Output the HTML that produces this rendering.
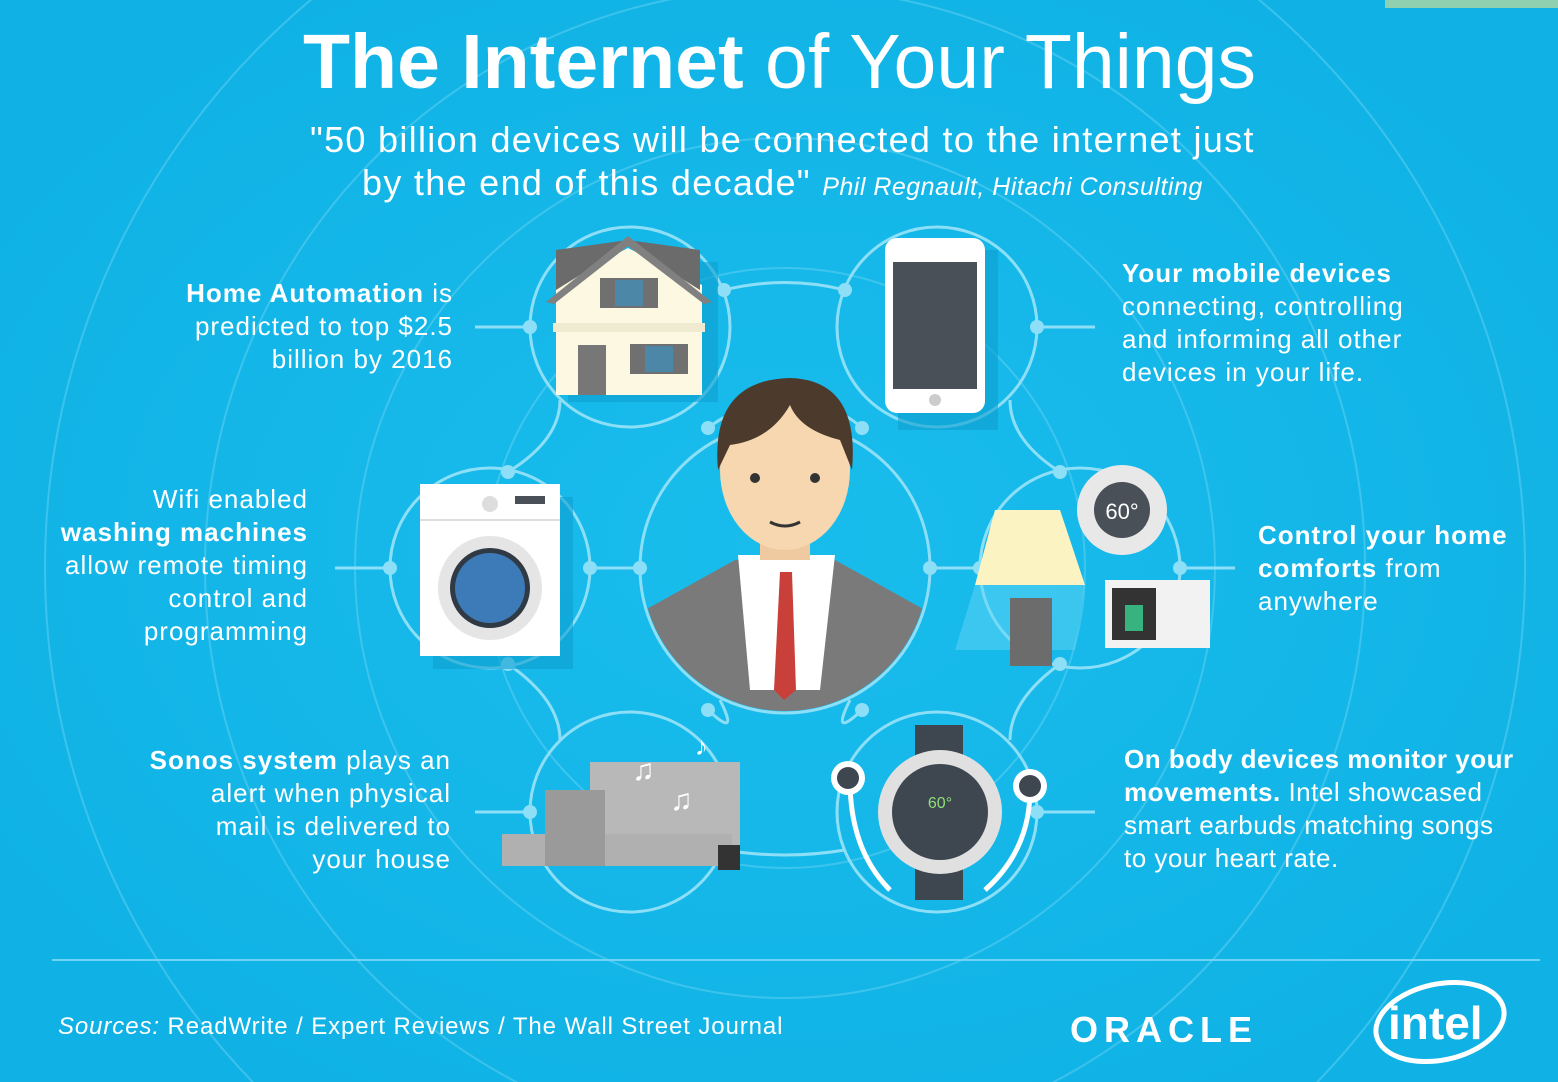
<!DOCTYPE html>
<html><head><meta charset="utf-8"><style>
html,body{margin:0;padding:0;overflow:hidden;width:1558px;height:1082px}
body{background:#13b6e8;font-family:"Liberation Sans",sans-serif;color:#fff;position:relative}
.t{position:absolute;white-space:nowrap;line-height:33px;font-size:26px;letter-spacing:1px}
.r{text-align:right}
b{font-weight:bold}
</style></head><body>
<svg width="1558" height="1082" style="position:absolute;left:0;top:0">
<defs><radialGradient id="bg" cx="50%" cy="50%" r="60%"><stop offset="0" stop-color="#19bdec"/><stop offset="1" stop-color="#10b2e5"/></radialGradient>
<clipPath id="pg"><rect width="1558" height="1082"/></clipPath></defs>
<g clip-path="url(#pg)">
<rect width="1558" height="1082" fill="url(#bg)"/>
<rect x="1385" y="0" width="173" height="8" fill="#8fd0b0"/>
<g fill="none" stroke="#5fd0f2" stroke-width="2" opacity="0.55">
<circle cx="785" cy="568" r="300"/><circle cx="785" cy="568" r="430"/><circle cx="785" cy="568" r="580"/><circle cx="785" cy="568" r="740"/>
</g>
<g fill="none" stroke="#8ddff7" stroke-width="3">
<circle cx="785" cy="568" r="145"/>
<circle cx="630" cy="327" r="100"/><circle cx="937" cy="327" r="100"/>
<circle cx="490" cy="568" r="100"/><circle cx="1080" cy="568" r="100"/>
<circle cx="630" cy="812" r="100"/><circle cx="937" cy="812" r="100"/>
<path d="M724 290 Q785 275 845 290 M708 428 Q745 400 720 440 M862 428 Q830 400 850 440 M508 472 Q560 440 560 400 M1060 472 Q1010 440 1010 400 M508 664 Q560 700 560 740 M1060 664 Q1010 700 1010 740 M590 568 L640 568 M930 568 L980 568 M724 850 Q785 860 845 850 M708 710 Q740 740 720 700 M862 710 Q830 740 850 700"/>
<path d="M475 327 L530 327 M1037 327 L1095 327 M335 568 L390 568 M1180 568 L1235 568 M475 812 L530 812 M1037 812 L1095 812"/>
</g>
<g fill="#8ddff7">
<circle cx="724" cy="290" r="7"/><circle cx="845" cy="290" r="7"/><circle cx="530" cy="327" r="7"/><circle cx="1037" cy="327" r="7"/>
<circle cx="390" cy="568" r="7"/><circle cx="590" cy="568" r="7"/><circle cx="640" cy="568" r="7"/><circle cx="930" cy="568" r="7"/><circle cx="980" cy="568" r="7"/><circle cx="1180" cy="568" r="7"/>
<circle cx="530" cy="812" r="7"/><circle cx="1037" cy="812" r="7"/><circle cx="508" cy="472" r="7"/><circle cx="1060" cy="472" r="7"/><circle cx="508" cy="664" r="7"/><circle cx="1060" cy="664" r="7"/>
<circle cx="708" cy="428" r="7"/><circle cx="862" cy="428" r="7"/><circle cx="708" cy="710" r="7"/><circle cx="862" cy="710" r="7"/>
</g>
<line x1="52" y1="960" x2="1540" y2="960" stroke="#6fd4f3" stroke-width="2"/>
<!-- house -->
<rect x="568" y="262" width="150" height="140" fill="#0e9fcf" opacity="0.6"/>
<polygon points="556,395 556,285 628,248 702,285 702,395" fill="#fdf8e1"/>
<polygon points="556,250 628,240 700,250 700,290 628,245 556,290" fill="#6b6b6b"/>
<polygon points="546,302 628,236 712,302 704,304 628,246 554,304" fill="#808080"/>
<rect x="553" y="323" width="152" height="9" fill="#f0ead0"/>
<rect x="600" y="278" width="58" height="30" fill="#707070"/><rect x="615" y="280" width="28" height="26" fill="#4d87a8"/>
<rect x="578" y="345" width="28" height="50" fill="#777"/>
<rect x="630" y="344" width="58" height="30" fill="#707070"/><rect x="645" y="346" width="28" height="26" fill="#4d87a8"/>
<!-- phone -->
<rect x="898" y="250" width="100" height="180" fill="#0e9fcf" opacity="0.6"/>
<rect x="885" y="238" width="100" height="175" rx="12" fill="#fff"/>
<rect x="893" y="262" width="84" height="127" fill="#4a5058"/>
<circle cx="935" cy="400" r="6" fill="#ccc"/>
<!-- man -->
<clipPath id="mc"><circle cx="785" cy="568" r="143"/></clipPath>
<g clip-path="url(#mc)">
<path d="M645 610 L735 560 L835 560 L925 610 L925 720 L645 720Z" fill="#7a7a7a"/>
<polygon points="738,555 835,555 820,690 750,690" fill="#fff"/>
<polygon points="780,572 792,572 796,690 784,700 774,690" fill="#c9403a"/>
</g>
<rect x="760" y="520" width="50" height="40" fill="#efc9a0"/>
<ellipse cx="785" cy="470" rx="65" ry="80" fill="#f6d7b0"/>
<path d="M718 470 Q710 380 790 378 Q860 380 852 470 L840 440 Q800 430 790 405 Q770 440 730 445Z" fill="#4c3a2c"/>
<circle cx="755" cy="478" r="5" fill="#333"/><circle cx="815" cy="478" r="5" fill="#333"/>
<path d="M770 522 Q785 530 800 522" stroke="#333" stroke-width="3" fill="none"/>
<!-- washer -->
<rect x="433" y="497" width="140" height="172" fill="#0e9fcf" opacity="0.6"/>
<rect x="420" y="484" width="140" height="172" fill="#fff"/>
<line x1="420" y1="520" x2="560" y2="520" stroke="#ddd" stroke-width="2"/>
<rect x="515" y="496" width="30" height="8" fill="#4a5058"/><circle cx="490" cy="504" r="8" fill="#ddd"/>
<circle cx="490" cy="588" r="52" fill="#e5e5e5"/><circle cx="490" cy="588" r="40" fill="#2f3a45"/><circle cx="490" cy="588" r="35" fill="#3c7ab8"/>
<!-- lamp and thermostat -->
<polygon points="995,510 1060,510 1085,585 975,585" fill="#fcf3c2"/>
<polygon points="975,585 1085,585 1075,650 955,650" fill="#5fd3f3" opacity="0.5"/>
<rect x="1010" y="598" width="42" height="68" fill="#6c6c6c"/>
<circle cx="1122" cy="510" r="45" fill="#e8e8e8"/><circle cx="1122" cy="510" r="28" fill="#4a5058"/>
<text x="1122" y="519" fill="#fff" font-size="22" text-anchor="middle" font-family="Liberation Sans">60°</text>
<rect x="1105" y="580" width="105" height="68" fill="#f2f2f2"/><rect x="1112" y="588" width="44" height="52" fill="#333"/>
<rect x="1125" y="605" width="18" height="26" fill="#36b37e"/>
<!-- speakers -->
<rect x="590" y="762" width="150" height="104" fill="#b8b8b8"/>
<rect x="502" y="834" width="230" height="32" fill="#b0b0b0"/>
<rect x="545" y="790" width="60" height="76" fill="#9a9a9a"/>
<rect x="718" y="845" width="22" height="25" fill="#333"/>
<text x="632" y="780" fill="#fff" font-size="30">♫</text><text x="670" y="810" fill="#fff" font-size="30">♫</text><text x="695" y="755" fill="#fff" font-size="26">♪</text>
<!-- watch -->
<rect x="915" y="725" width="48" height="175" fill="#3e4650"/>
<circle cx="940" cy="812" r="62" fill="#e0e0e0"/><circle cx="940" cy="812" r="48" fill="#3e4650"/>
<text x="940" y="808" fill="#8ee07a" font-size="16" text-anchor="middle">60°</text>
<path d="M850 780 Q850 850 890 890 M1030 790 Q1030 850 985 890" stroke="#fff" stroke-width="5" fill="none"/>
<circle cx="848" cy="778" r="17" fill="#fff"/><circle cx="848" cy="778" r="11" fill="#3e4650"/>
<circle cx="1030" cy="786" r="17" fill="#fff"/><circle cx="1030" cy="786" r="11" fill="#3e4650"/>
<!-- intel ellipse -->
<ellipse cx="1440" cy="1022" rx="65" ry="38" fill="none" stroke="#fff" stroke-width="5" transform="rotate(-12 1440 1022)"/>
</g>
</svg>
<div class="t" style="left:303px;top:20px;font-size:77px;line-height:84px;letter-spacing:0">
<b>The Internet</b> of Your Things</div>
<div class="t" style="left:310px;top:118px;font-size:36px;line-height:44px;letter-spacing:1.3px">"50 billion devices will be connected to the internet just</div>
<div class="t" style="left:362px;top:161px;font-size:36px;line-height:44px;letter-spacing:1.3px">by the end of this decade" <i style="font-size:25px;letter-spacing:0.5px">Phil Regnault, Hitachi Consulting</i></div>
<div class="t r" style="right:1105px;top:277px"><b>Home Automation</b> is<br>predicted to top $2.5<br>billion by 2016</div>
<div class="t" style="left:1122px;top:257px"><b>Your mobile devices</b><br>connecting, controlling<br>and informing all other<br>devices in your life.</div>
<div class="t r" style="right:1250px;top:483px">Wifi enabled<br><b>washing machines</b><br>allow remote timing<br>control and<br>programming</div>
<div class="t" style="left:1258px;top:519px"><b>Control your home<br>comforts</b> from<br>anywhere</div>
<div class="t r" style="right:1107px;top:744px"><b>Sonos system</b> plays an<br>alert when physical<br>mail is delivered to<br>your house</div>
<div class="t" style="left:1124px;top:743px;letter-spacing:0.5px"><b>On body devices monitor your<br>movements.</b> Intel showcased<br>smart earbuds matching songs<br>to your heart rate.</div>
<div class="t" style="left:58px;top:1010px;font-size:24px;letter-spacing:0.9px"><i>Sources:</i> ReadWrite / Expert Reviews / The Wall Street Journal</div>
<div class="t" style="left:1070px;top:1008px;font-size:36px;line-height:44px;letter-spacing:6px;font-weight:bold">ORACLE</div>
<div class="t" style="left:1388px;top:998px;font-size:46px;line-height:50px;font-weight:bold;letter-spacing:0">intel</div>
</body></html>
